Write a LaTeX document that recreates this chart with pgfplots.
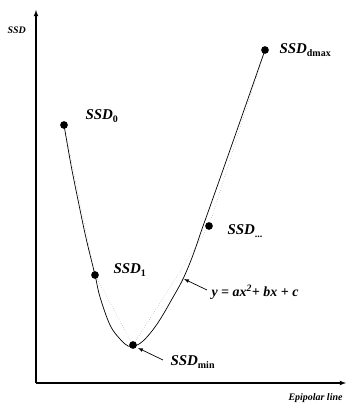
\documentclass[border=0pt]{standalone}
\usepackage{pgfplots}
\pgfplotsset{compat=1.18}
\usepackage{fontspec}
\setmainfont{Liberation Serif}
\newcommand{\ssd}[1]{\textbf{\textit{SSD}}\raisebox{-0.45ex}{\fontsize{10}{10}\selectfont\bfseries #1}}
\begin{document}
\begin{tikzpicture}
\useasboundingbox (-36bp,-23bp) rectangle (314bp,383bp);
\begin{axis}[
  scale only axis, width=310bp, height=373bp,
  xmin=0, xmax=310, ymin=0, ymax=373,
  axis lines=left, axis line style={line width=1.1pt, -latex},
  xtick=\empty, ytick=\empty, clip=false,
]
% dotted polyline through the samples
\addplot[gray, dotted, line width=0.4pt] coordinates {
  (28,258) (59,108) (97,38) (173,157) (229,333)};
% fitted curve
\addplot[black, line width=0.7pt, smooth, tension=0.6] coordinates {
  (28,258) (35,218) (42,183) (50,145) (59,108) (64,86) (74,58) (84,44)
  (92,37) (99,37) (107,42) (116,52) (125,65) (136,84) (147,104)
  (157,128) (166,154) (176,182) (200,250) (229,333)};
% sample points
\addplot[only marks, mark=*, mark size=3.6pt, black] coordinates {
  (28,258) (59,108) (97,38) (173,157) (229,333)};
% labels
\node[anchor=west, font=\fontsize{15}{15}\selectfont] at (axis cs:46,267) {\ssd{0}};
\node[anchor=west, font=\fontsize{15}{15}\selectfont] at (axis cs:74,113) {\ssd{1}};
\node[anchor=west, font=\fontsize{15}{15}\selectfont] at (axis cs:188,152) {\ssd{...}};
\node[anchor=west, font=\fontsize{15}{15}\selectfont] at (axis cs:240,333) {\ssd{dmax}};
\node[anchor=west, font=\fontsize{15}{15}\selectfont] at (axis cs:131,21) {\ssd{min}};
\node[anchor=west, font=\fontsize{14}{14}\selectfont\bfseries\itshape] at (axis cs:172,91) {y = ax\textsuperscript{2}+ bx + c};
\node[anchor=west, font=\fontsize{10}{10}\selectfont\bfseries\itshape] at (axis cs:-32,353) {SSD};
\node[anchor=east, font=\fontsize{10}{10}\selectfont\bfseries\itshape] at (axis cs:310,-15) {Epipolar line};
% arrows
\draw[-latex, line width=0.7pt] (axis cs:127,23) -- (axis cs:102,35);
\draw[-latex, line width=0.7pt] (axis cs:171,93) -- (axis cs:148,104);
\end{axis}
\end{tikzpicture}
\end{document}
